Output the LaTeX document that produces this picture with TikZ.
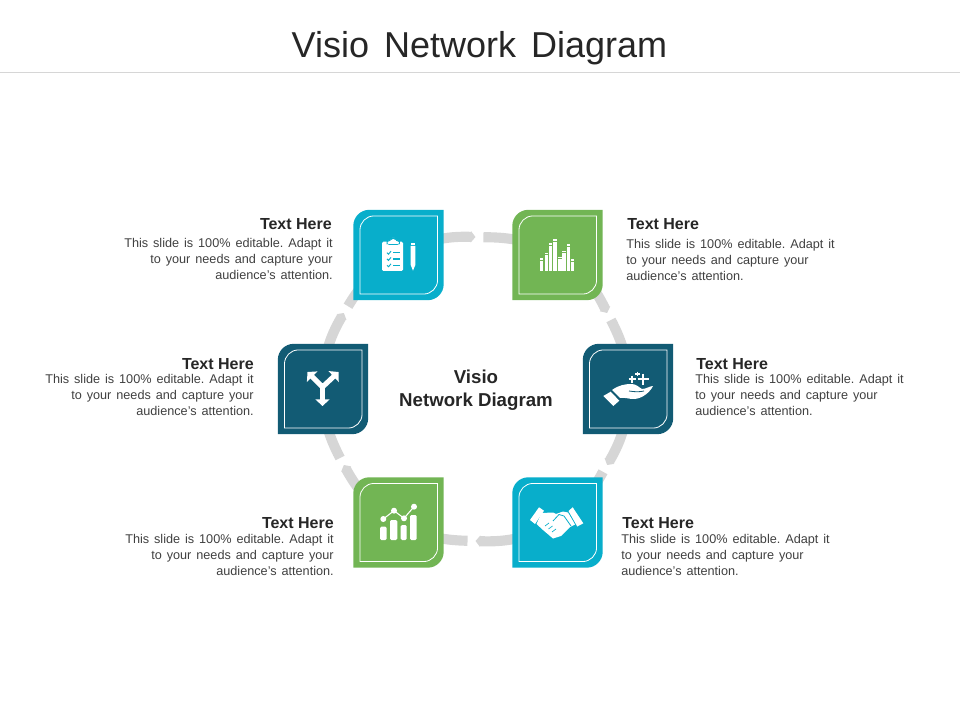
\documentclass[tikz,border=0pt]{standalone}
\usepackage{fontspec}
\setmainfont{Liberation Sans}
\usetikzlibrary{calc, backgrounds, arrows.meta}
\definecolor{cyanb}{HTML}{08AECB}
\definecolor{greenb}{HTML}{72B554}
\definecolor{darkb}{HTML}{125B74}
\definecolor{ringc}{HTML}{D6D6D6}
\definecolor{headc}{HTML}{262626}
\definecolor{bodyc}{HTML}{404040}
\newcommand{\bodyfont}{\fontsize{9.5}{12}\selectfont\frenchspacing\spaceskip=3.7pt\relax}
\begin{document}
\begin{tikzpicture}
		[x=0.75pt, y=-0.75pt,
		tile/.style = {rectangle, minimum size=67.8pt, inner sep=0pt, path picture={
			\fill[#1] (path picture bounding box.south west) [rounded corners=12pt] -- (path picture bounding box.north west) [sharp corners] -- (path picture bounding box.north east) [rounded corners=12pt] -- (path picture bounding box.south east) [sharp corners] -- cycle;
			\draw[white, line width=0.6pt] ([xshift=5pt, yshift=4.6pt]path picture bounding box.south west) [rounded corners=10.5pt] -- ([xshift=5pt, yshift=-4.6pt]path picture bounding box.north west) [sharp corners] -- ([xshift=-4.6pt, yshift=-4.6pt]path picture bounding box.north east) [rounded corners=10.5pt] -- ([xshift=-4.6pt, yshift=4.6pt]path picture bounding box.south east) [sharp corners] -- cycle;}},
		ring/.style = {draw=ringc, line width=7.6pt},
		head/.style = {font=\bfseries\fontsize{12}{14}\selectfont, text=headc, inner sep=0pt},
		body/.style = {font=\bodyfont, text=bodyc, inner sep=0pt},
		ico/.style = {white, line width=3.8pt}]

		\useasboundingbox (0,0) rectangle (960,720);

		\node[font=\fontsize{27}{32}\selectfont, text=headc, inner sep=0pt] (title) at (479.5,48) {Visio\hspace{3.8pt} Network\hspace{3.8pt} Diagram};
		\coordinate (ruleL) at (0,72);
		\coordinate (ruleR) at (960,72);
		\draw[ringc, line width=0.6pt] (ruleL) -- (ruleR);

		\node[align=center, font=\bfseries\fontsize{14}{17.3}\selectfont, text=headc, inner sep=0pt] (cen) at (476,390) {Visio\\Network Diagram};

		\foreach \x/\y/\alph/\col in {
			398.5/255/b1/cyanb,
			557.5/255/b2/greenb,
			628/389/b3/darkb,
			557.5/522.5/b4/cyanb,
			398.5/522.5/b5/greenb,
			323/389/b6/darkb}{
			\node[tile=\col] (\alph) at (\x,\y) {};
		}

		\begin{scope}[on background layer]
		\coordinate (mid) at (475.5,389);
		\foreach \source/\target/\ang in {
			b1/b2/-90,
			b2/b3/-30,
			b3/b4/30,
			b4/b5/90,
			b5/b6/150,
			b6/b1/210}{
			\coordinate (tip\source) at ($(mid)+(\ang:152)$);
			\coordinate (gap\source) at ($(mid)+(\ang+3:152)$);
			\draw[ring, -{Triangle[length=3.5pt, width=8.4pt]}] (\source.center) to[bend left=15] (tip\source);
			\draw[ring] (gap\source) to[bend left=13.5] (\target.center);
		}
		\end{scope}

		\foreach \x/\y/\alph/\anc in {
			332/224/h1/east,
			627/224/h2/west,
			696/364/h3/west,
			622/523/h4/west,
			334/523/h5/east,
			254/364/h6/east}{
			\node[head, anchor=\anc] (\alph) at (\x,\y) {Text Here};
		}
		\node[body, anchor=east, align=right] (d1) at (333,259) {This slide is 100\% editable. Adapt it\\to your needs and capture your\\audience's attention.};
		\node[body, anchor=west, align=left] (d2) at (626,260) {This slide is 100\% editable. Adapt it\\to your needs and capture your\\audience's attention.};
		\node[body, anchor=west, align=left] (d3) at (695,395) {This slide is 100\% editable. Adapt it\\to your needs and capture your\\audience's attention.};
		\node[body, anchor=west, align=left] (d4) at (621,555) {This slide is 100\% editable. Adapt it\\to your needs and capture your\\audience's attention.};
		\node[body, anchor=east, align=right] (d5) at (334,555) {This slide is 100\% editable. Adapt it\\to your needs and capture your\\audience's attention.};
		\node[body, anchor=east, align=right] (d6) at (254,395) {This slide is 100\% editable. Adapt it\\to your needs and capture your\\audience's attention.};

		% clipboard
		\fill[white, rounded corners=1pt] (382,241.7) rectangle (403,271);
		\fill[white, draw=cyanb, line width=0.4pt, rounded corners=1.5pt] (387,244.5) -- (387,241) -- (390,241) -- (392.5,238) -- (394,238) -- (396.5,241) -- (399.5,241) -- (399.5,244.5) -- cycle;
		\foreach \y in {252.7,258.9,265.3}{
			\draw[cyanb, line width=0.7pt] (387,\y) -- (388.5,\y+1.5) -- (391,\y-1.5);
			\draw[cyanb, line width=1.1pt] (393,\y) -- (400,\y);
		}
		\fill[white] (410.7,242.7) rectangle (415.3,245);
		\fill[white] (410.7,246) -- (415.3,246) -- (415.3,265) -- (413,270.7) -- (410.7,265) -- cycle;

		% bars
		\foreach \x/\y in {540/258.3, 544.7/252.7, 549/243.3, 553.3/239, 558.3/256.7, 562.3/250.7, 567/244, 571/259.3}{
			\fill[white] (\x,\y) rectangle (\x+3.4,\y+1.6);
			\fill[white] (\x,\y+2.8) rectangle (\x+3.4,271);
		}

		% hand
		\fill[white] (603.3,396) -- (610.7,391.7) -- (619.3,400.7) -- (613.3,406) -- cycle;
		\fill[white] (612,390) .. controls (619,385) and (625,384) .. (632,384) .. controls (636,384) and (640,388) .. (642,389) .. controls (646,389) and (650,386) .. (653,386) .. controls (650,392) and (643,398) .. (635,399) .. controls (630,399.5) and (625,397) .. (620,398) -- cycle;
		\draw[darkb, line width=0.6pt] (629,391) .. controls (635,392) and (640,392) .. (644,391);
		\foreach \x/\y/\s/\w in {643.3/379.3/5.6/1.7pt, 632.3/379.3/3.8/1.3pt, 637.7/374/2.4/0.8pt}{
			\draw[white, line width=\w] (\x-\s,\y) -- (\x+\s,\y) (\x,\y-\s) -- (\x,\y+\s);
		}

		% handshake
		\fill[white] (530,520) -- (539,507.3) -- (544,510.7) -- (535,524) -- cycle;
		\fill[white] (572.7,507.3) -- (583.3,523.3) -- (577.3,526.5) -- (568.5,511) -- cycle;
		\fill[white] (541.5,513) -- (553,512.5) -- (556,514) -- (563,511.5) -- (568,512.5) -- (575,524.5) -- (570,527) -- (561,536) -- (553,538.5) -- (543,530) -- (536.5,524) -- cycle;
		\draw[cyanb, line width=0.6pt] (553,521) -- (559,514.5) -- (564,516) -- (571,526);
		\foreach \x/\y in {545/526, 548.5/529, 552/532}{
			\draw[cyanb, line width=0.5pt] (\x,\y) -- (\x+4,\y-3);
		}

		% chart
		\foreach \x/\y/\w in {380/526.7/6.7, 390/520/7.3, 400.7/525/6, 410/515/6.7}{
			\fill[white, rounded corners=1pt] (\x,\y) rectangle (\x+\w,540);
		}
		\draw[white, line width=0.8pt] (383.3,519) -- (394,510.7) -- (404,518.3) -- (414,506.7);
		\foreach \x/\y in {383.3/519, 394/510.7, 404/518.3, 414/506.7}{
			\fill[white] (\x,\y) circle[radius=3];
		}

		% split arrow
		\draw[ico, line width=4.4pt, -{Triangle[length=5pt, width=10.5pt]}] (322.5,383) -- (322.5,406);
		\draw[ico, -{Triangle[length=5pt, width=11pt]}] (322.5,387) -- (307.5,372);
		\draw[ico, -{Triangle[length=5pt, width=11pt]}] (322.5,387) -- (338.5,372);
	\end{tikzpicture}
\end{document}
